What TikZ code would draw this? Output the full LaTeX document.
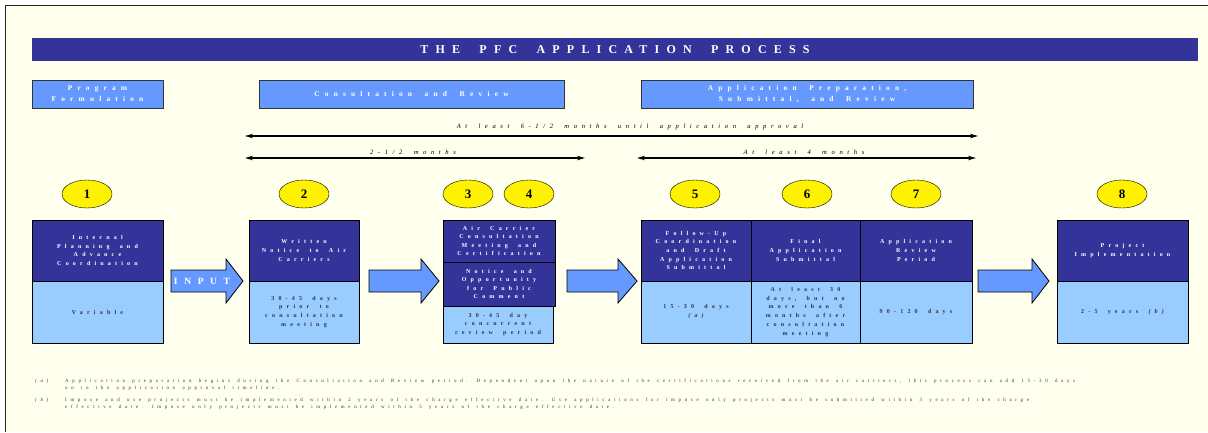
\documentclass[tikz,border=0pt]{standalone}
\usepackage{fontspec}
\setmainfont{Liberation Serif}
\newfontfamily\titlefont[LetterSpace=60,WordSpace=1.9]{Liberation Serif}
\newfontfamily\boxfont[LetterSpace=70,WordSpace=1.8]{Liberation Serif}
\newfontfamily\notefont[LetterSpace=75,WordSpace=1.5]{Liberation Serif}
\usetikzlibrary{arrows.meta,shapes.geometric}
\definecolor{paper}{HTML}{FFFFEE}
\definecolor{navy}{HTML}{333399}
\definecolor{midblue}{HTML}{6699FF}
\definecolor{paleblue}{HTML}{99CCFF}
\definecolor{bodytext}{HTML}{333344}
\begin{document}
\begin{tikzpicture}[x=1pt,y=-1pt,
    phase/.style={draw=black!80,fill=midblue,inner sep=0pt,text=white,align=center,
      font=\boxfont\bfseries\fontsize{7.4}{11}\selectfont},
    topbox/.style={draw=black,fill=navy,inner sep=0pt,text=white,align=center,
      font=\boxfont\bfseries\fontsize{6}{8.6}\selectfont},
    botbox/.style={draw=black,fill=paleblue,inner sep=0pt,text=bodytext,align=center,
      font=\boxfont\bfseries\fontsize{6}{8.9}\selectfont},
    stepnum/.style={ellipse,draw=black,fill=yellow,minimum width=50,minimum height=28,
      inner sep=0pt,font=\bfseries\fontsize{13}{13}\selectfont},
    blockarrow/.style={draw=black,fill=midblue,line width=0.8pt},
    span/.style={line width=1.4pt,{Stealth[length=8pt,width=4.5pt]}-{Stealth[length=8pt,width=4.5pt]}},
    spanlabel/.style={inner sep=0pt,font=\boxfont\itshape\fontsize{6.6}{6.6}\selectfont},
    note/.style={inner sep=0pt,anchor=north west,align=left,text=bodytext,
      font=\notefont\fontsize{4.9}{7}\selectfont}]
% page
\useasboundingbox (0,0) rectangle (1208,432);
\fill[white] (0,0) rectangle (1208,432);
\fill[paper] (5,5) rectangle (1208,432);
\draw[black!85,line width=0.8pt] (5,432) -- (5,5) -- (1208,5);

% title and phases
\node[fill=navy,minimum width=1166,minimum height=23,inner sep=0pt,text=white,
  font=\titlefont\bfseries\fontsize{12}{12}\selectfont] (title) at (615,49.5) {THE PFC APPLICATION PROCESS};
\node[phase,minimum width=131,minimum height=28] (progform) at (97.5,94) {Program\\Formulation};
\node[phase,minimum width=305,minimum height=28] (consult) at (411.5,94) {Consultation and Review};
\node[phase,minimum width=332,minimum height=28] (appprep) at (807,94) {Application Preparation,\\Submittal, and Review};

% time spans
\coordinate (allL) at (245,136);  \coordinate (allR) at (978,136);
\coordinate (twoL) at (245,158);  \coordinate (twoR) at (585,158);
\coordinate (fourL) at (637,158); \coordinate (fourR) at (976,158);
\draw[span] (allL) -- (allR);
\draw[span] (twoL) -- (twoR);
\draw[span] (fourL) -- (fourR);
\node[spanlabel] (alllbl) at (630,127) {At least 6-1/2 months until application approval};
\node[spanlabel] (twolbl) at (413,152) {2-1/2 months};
\node[spanlabel] (fourlbl) at (804,152) {At least 4 months};

% step numbers
\node[stepnum] (n1) at (87,194) {1};
\node[stepnum] (n2) at (304,194) {2};
\node[stepnum] (n3) at (468,194) {3};
\node[stepnum] (n4) at (529,194) {4};
\node[stepnum] (n5) at (695,194) {5};
\node[stepnum] (n6) at (807,194) {6};
\node[stepnum] (n7) at (916,194) {7};
\node[stepnum] (n8) at (1122,194) {8};

% step boxes
\node[topbox,minimum width=131,minimum height=61] (top1) at (97.5,250.5) {Internal\\Planning and\\Advance\\Coordination};
\node[botbox,minimum width=131,minimum height=62] (bot1) at (97.5,312) {Variable};
\node[topbox,minimum width=110,minimum height=61] (top2) at (304,250.5) {Written\\Notice to Air\\Carriers};
\node[botbox,minimum width=110,minimum height=62] (bot2) at (304,312) {30-45 days\\prior to\\consultation\\meeting};
\node[topbox,minimum width=112,minimum height=42] (top3) at (499,241) {Air Carrier\\Consultation\\Meeting and\\Certification};
\node[topbox,minimum width=112,minimum height=44] (top4) at (499,284) {Notice and\\Opportunity\\for Public\\Comment};
\node[botbox,minimum width=110,minimum height=37] (bot4) at (498,324.5) {30-45 day\\concurrent\\review period};
\node[topbox,minimum width=110,minimum height=61] (top5) at (696,250.5) {Follow-Up\\Coordination\\and Draft\\Application\\Submittal};
\node[botbox,minimum width=110,minimum height=62] (bot5) at (696,312) {15-30 days\\{\itshape (a)}};
\node[topbox,minimum width=109,minimum height=61] (top6) at (805.5,250.5) {Final\\Application\\Submittal};
\node[botbox,minimum width=109,minimum height=62] (bot6) at (805.5,312) {At least 30\\days, but no\\more than 6\\months after\\consultation\\meeting};
\node[topbox,minimum width=112,minimum height=61] (top7) at (916,250.5) {Application\\Review\\Period};
\node[botbox,minimum width=112,minimum height=62] (bot7) at (916,312) {90-120 days};
\node[topbox,minimum width=131,minimum height=61] (top8) at (1122.5,250.5) {Project\\Implementation};
\node[botbox,minimum width=131,minimum height=62] (bot8) at (1122.5,312) {2-5 years {\itshape (b)}};

% block arrows
\draw[blockarrow] (171,270) -- (226,270) -- (226,259) -- (243,281) -- (226,303) -- (226,292) -- (171,292) -- cycle;
\draw[blockarrow] (369,270) -- (421,270) -- (421,259) -- (439,281) -- (421,303) -- (421,292) -- (369,292) -- cycle;
\draw[blockarrow] (567,270) -- (618,270) -- (618,259) -- (637,281) -- (618,303) -- (618,292) -- (567,292) -- cycle;
\draw[blockarrow] (978,270) -- (1032,270) -- (1032,259) -- (1049,281) -- (1032,303) -- (1032,292) -- (978,292) -- cycle;
\node[inner sep=0pt,text=white,font=\boxfont\bfseries\fontsize{9.5}{9.5}\selectfont] (input) at (202,281) {INPUT};

% footnotes
\node[note] (marka) at (35,378.5) {\itshape (a)};
\node[note] (notea) at (65,378.5) {Application preparation begins during the Consultation and Review period. Dependent upon the nature of the certifications received from the air carriers, this process can add 15-30 days\\on to the application approval timeline.};
\node[note] (markb) at (35,397.5) {\itshape (b)};
\node[note] (noteb) at (65,397.5) {Impose and use projects must be implemented within 2 years of the charge effective date. Use applications for impose only projects must be submitted within 3 years of the charge\\effective date. Impose only projects must be implemented within 5 years of the charge effective date.};
\end{tikzpicture}
\end{document}
